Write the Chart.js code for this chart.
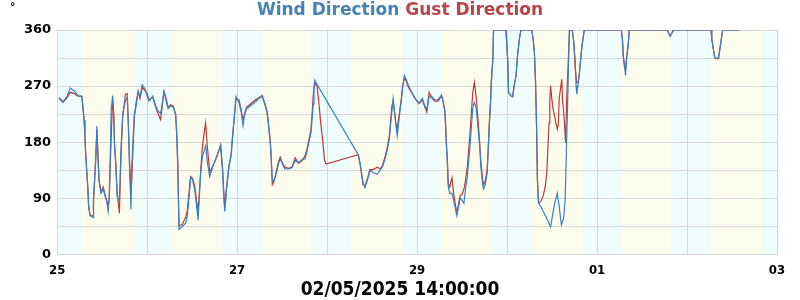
<!DOCTYPE html>
<html>
<head>
<meta charset="utf-8">
<script src="https://cdn.jsdelivr.net/npm/chart.js@4.4.1/dist/chart.umd.min.js"></script>
<style>
  html, body { margin: 0; padding: 0; background: #ffffff; }
  #wrap { width: 800px; height: 300px; position: relative; }
</style>
</head>
<body>
<div id="wrap"><canvas id="dirChart"></canvas></div>
<script>
// hours since 25/04/2025 00:00
const dayLabels = ['25', '26', '27', '28', '29', '30', '01', '02', '03'];
const sunriseHours = [6.6, 30.8, 54.5, 78.4, 102.3, 126.5, 150.4, 174.3];
const sunsetHours = [20.1, 43.8, 67.7, 91.8, 115.8, 140.0, 163.7, 187.8];
const stampText = '02/05/2025 14:00:00';

const windHours = [
  0.5, 1.6, 2.7, 3.5, 4.6, 5.5, 6.6, 6.8, 7.2, 7.4, 7.6, 7.9, 8.2, 8.4, 8.8, 9.6, 9.7,
  10.0, 10.3, 10.6, 10.9, 11.2, 11.7, 12.3, 12.8, 13.3, 13.6, 13.9, 14.1, 14.4, 14.8,
  15.1, 15.3, 15.7, 16.0, 16.6, 16.8, 17.1, 17.5, 17.9, 18.2, 18.7, 19.0, 19.3, 19.7,
  19.9, 20.3, 20.6, 21.1, 21.6, 22.1, 22.7, 23.5, 24.0, 24.5, 25.5, 26.3, 26.9, 27.6,
  28.5, 29.1, 29.6, 30.3, 31.0, 31.6, 31.9, 32.2, 32.5, 33.4, 34.3, 34.7, 35.2, 35.6,
  36.1, 36.7, 37.2, 37.6, 37.9, 38.3, 38.7, 39.2, 39.6, 40.1, 40.7, 41.4, 42.3, 43.1,
  43.6, 44.1, 44.5, 44.7, 45.2, 45.8, 46.4, 46.9, 47.3, 47.7, 48.5, 49.1, 49.6, 49.9,
  50.5, 51.5, 52.9, 54.2, 54.7, 55.4, 55.9, 56.2, 56.6, 56.9, 57.1, 57.4, 57.9, 58.5,
  59.1, 59.5, 60.0, 60.7, 61.7, 62.6, 63.5, 64.4, 65.3, 66.1, 66.6, 67.1, 67.7, 68.0,
  68.3, 68.5, 68.7, 80.3, 80.8, 81.2, 81.6, 82.1, 82.8, 83.4, 84.3, 85.4, 86.1, 86.8,
  87.4, 88.0, 88.6, 88.9, 89.3, 89.6, 90.0, 90.3, 90.7, 91.0, 91.4, 91.8, 92.1, 92.6,
  93.2, 93.7, 94.5, 95.5, 96.5, 97.4, 98.1, 98.6, 99.2, 99.8, 100.7, 101.6, 102.5,
  102.8, 103.4, 103.6, 103.8, 104.1, 104.3, 104.7, 105.3, 105.7, 106.2, 106.6, 107.1,
  107.5, 108.0, 108.5, 108.9, 109.4, 109.8, 110.2, 110.5, 110.9, 111.3, 111.8, 112.2,
  112.7, 113.0, 113.4, 113.7, 114.2, 114.7, 115.0, 115.3, 115.6, 115.8, 116.2, 116.4,
  119.7, 119.9, 120.2, 120.4, 121.1, 121.5, 121.9, 122.4, 122.8, 123.3, 123.7, 126.6,
  127.0, 127.3, 127.6, 127.9, 128.1, 128.4, 129.0, 129.9, 130.8, 131.6, 132.1, 132.7,
  133.4, 133.9, 134.5, 135.1, 135.5, 135.9, 136.2, 136.6, 137.4, 137.8, 138.2, 138.4,
  138.6, 139.0, 139.3, 139.7, 140.0, 140.4, 140.6, 150.5, 150.8, 151.0, 151.4, 151.6,
  151.9, 152.3, 152.6, 162.7, 163.5, 164.4, 174.4, 174.6, 175.0, 175.4, 175.7, 176.4,
  176.8, 177.1, 177.5, 182.0
];
const windDir = [
  252, 245, 254, 267, 262, 255, 253, 241, 215, 191, 163, 134, 105, 77, 62, 59, 88,
  120, 152, 206, 152, 117, 98, 105, 93, 83, 69, 93, 136, 230, 255,
  222, 176, 136, 93, 85, 125, 179, 225, 238, 246, 252, 206, 141, 72,
  141, 190, 225, 239, 261, 253, 272, 265, 254, 246, 254, 238, 230, 226,
  260, 246, 234, 238, 236, 225, 190, 131, 40, 45, 50, 61, 93, 123,
  120, 104, 77, 55, 90, 131, 155, 166, 174, 147, 125, 139, 152, 166,
  174, 135, 88, 69, 104, 141, 158, 195, 222, 253, 244, 228, 207, 222,
  233, 238, 245, 252, 253, 241, 230, 217, 193, 174, 152, 117, 120, 131,
  147, 153, 147, 137, 137, 139, 151, 147, 152, 153, 164, 179, 195, 217,
  241, 268, 279, 160, 147, 131, 115, 107, 120, 135, 131, 129, 135, 141,
  152, 166, 185, 206, 230, 250, 229, 211, 190, 206, 228, 246, 265, 287,
  279, 271, 261, 250, 243, 250, 238, 233, 252, 254, 248, 248, 256,
  249, 230, 206, 176, 144, 109, 98, 98, 88, 74, 62, 77,
  90, 87, 82, 104, 125, 152, 179, 206, 238, 244, 233, 206,
  174, 141, 117, 105, 112, 131, 174, 211, 244, 276, 311, 360,
  360, 341, 308, 260, 254, 253, 271, 287, 319, 346, 360, 360,
  343, 324, 276, 198, 120, 82, 77, 66, 55, 44, 61, 82,
  98, 77, 47, 58, 88, 182, 252, 360, 360, 341, 308, 271,
  257, 276, 292, 316, 335, 351, 360, 360, 343, 316, 298, 287,
  316, 335, 360, 360, 350, 360, 360, 346, 330, 316, 314, 316,
  331, 343, 360, 360
];

const gustHours = [
  0.5, 1.6, 2.7, 3.5, 4.6, 5.5, 6.6, 6.8, 7.2, 7.4, 7.6, 7.9, 8.2, 8.4, 8.8, 9.6, 9.7,
  10.0, 10.3, 10.6, 10.9, 11.2, 11.7, 12.3, 12.8, 13.3, 13.6, 13.9, 14.1, 14.4, 14.8,
  15.1, 15.3, 15.7, 16.0, 16.6, 16.8, 17.1, 17.5, 17.9, 18.2, 18.7, 19.0, 19.3, 19.7,
  19.9, 20.3, 20.6, 21.1, 21.6, 22.1, 22.7, 23.5, 24.0, 24.5, 25.5, 26.3, 26.9, 27.6,
  28.5, 29.1, 29.6, 30.3, 31.0, 31.6, 31.9, 32.2, 32.5, 33.4, 34.3, 34.7, 35.2, 35.6,
  36.1, 36.7, 37.2, 37.6, 37.9, 38.3, 38.7, 39.2, 39.6, 40.1, 40.7, 41.4, 42.3, 43.1,
  43.6, 44.1, 44.5, 44.7, 45.2, 45.8, 46.4, 46.9, 47.3, 47.7, 48.5, 49.1, 49.6, 49.9,
  50.5, 51.5, 52.9, 54.2, 54.7, 55.4, 55.9, 56.2, 56.6, 56.9, 57.1, 57.4, 57.9, 58.5,
  59.1, 59.5, 60.0, 60.7, 61.7, 62.6, 63.5, 64.4, 65.3, 66.1, 66.6, 67.1, 67.7, 68.0,
  68.3, 68.7, 69.3, 69.8, 70.3, 70.9, 71.3, 71.7, 80.3, 80.8, 81.2, 81.6, 82.1, 82.8,
  83.4, 84.3, 85.4, 86.1, 86.8, 87.4, 88.0, 88.6, 88.9, 89.3, 89.6, 90.0, 90.3, 90.7,
  91.0, 91.4, 91.8, 92.1, 92.6, 93.2, 93.7, 94.5, 95.5, 96.5, 97.4, 98.1, 98.6, 99.2,
  99.8, 100.7, 101.6, 102.5, 102.8, 103.4, 103.6, 103.8, 104.1, 104.3, 104.7, 105.3,
  105.7, 106.2, 106.6, 107.1, 107.5, 108.0, 108.5, 108.9, 109.4, 109.8, 110.2, 110.5,
  110.9, 111.3, 111.8, 112.2, 112.7, 113.0, 113.4, 113.7, 114.2, 114.7, 115.0, 115.3,
  115.6, 115.8, 116.2, 116.4, 119.7, 119.9, 120.2, 120.4, 121.1, 121.5, 121.9, 122.4,
  122.8, 123.3, 123.7, 126.6, 127.0, 127.3, 127.6, 127.9, 128.1, 128.4, 129.0, 129.6,
  130.2, 130.6, 130.9, 131.2, 131.4, 131.6, 131.9, 132.2, 132.7, 133.0, 133.4, 133.7,
  133.9, 134.3, 134.6, 134.8, 135.1, 135.4, 135.6, 135.9, 136.2, 136.5, 136.7, 137.4,
  137.8, 138.2, 138.6, 139.0, 139.3, 139.7, 140.0, 140.4, 140.6, 150.5, 150.8, 151.0,
  151.4, 151.6, 151.9, 152.3, 152.6, 162.7, 163.5, 164.4, 174.4, 174.6, 175.0, 175.4,
  175.7, 176.4, 176.8, 177.1, 177.5, 182.0
];
const gustDir = [
  250, 244, 252, 260, 258, 254, 254, 241, 215, 191, 163, 134, 105, 77, 62, 62, 88,
  120, 155, 200, 160, 118, 100, 108, 95, 85, 75, 90, 130, 185, 250,
  225, 180, 140, 100, 66, 110, 170, 222, 240, 257, 258, 210, 150, 100,
  120, 180, 220, 245, 262, 250, 268, 262, 258, 248, 252, 236, 226, 216,
  262, 250, 236, 240, 238, 224, 195, 145, 46, 48, 60, 70, 100, 125,
  122, 110, 85, 70, 95, 135, 170, 195, 211, 170, 132, 140, 153, 166,
  176, 140, 95, 75, 108, 140, 160, 198, 224, 250, 248, 232, 212, 224,
  236, 241, 248, 253, 255, 242, 232, 220, 198, 178, 155, 112, 118, 134,
  150, 156, 148, 140, 138, 140, 155, 146, 150, 158, 168, 182, 200, 225,
  255, 275, 271, 244, 211, 179, 152, 145, 160, 145, 128, 112, 110, 122,
  136, 136, 140, 137, 143, 155, 170, 190, 212, 238, 245, 228, 212, 200,
  215, 232, 250, 268, 283, 277, 268, 260, 250, 242, 248, 236, 228, 260,
  252, 246, 246, 254, 250, 232, 210, 180, 150, 115, 108, 123,
  100, 80, 68, 82, 95, 96, 105, 118, 140, 170, 200, 230,
  262, 276, 250, 220, 180, 150, 125, 112, 118, 136, 170, 215,
  246, 278, 312, 360, 360, 341, 308, 260, 254, 253, 271, 287,
  319, 346, 360, 360, 343, 324, 276, 198, 120, 82, 85, 93,
  109, 131, 171, 211, 244, 271, 252, 236, 222, 211, 201, 211,
  249, 268, 281, 246, 228, 201, 179, 249, 292, 335, 360, 360,
  341, 297, 276, 276, 290, 318, 336, 352, 360, 360, 343, 318,
  300, 296, 316, 336, 360, 360, 350, 360, 360, 346, 330, 316,
  315, 314, 331, 343, 360, 360
];

const windColor = '#3b80bd';
const gustColor = '#b8393e';

function toPoints(xs, ys) {
    return xs.map((x, i) => ({ x: x, y: ys[i] }));
}

// day (yellow) / night (cyan) bands behind the grid
const bandPlugin = {
    id: 'dayNightBands',
    beforeDraw(chart) {
        const { ctx, chartArea, scales } = chart;
        const xs = scales.x;
        ctx.save();
        ctx.fillStyle = '#effdfd';
        ctx.fillRect(chartArea.left, chartArea.top, chartArea.width, chartArea.height);
        ctx.fillStyle = '#fdfdee';
        for (let i = 0; i < sunriseHours.length; i++) {
            let a = Math.max(xs.getPixelForValue(sunriseHours[i]), chartArea.left);
            let b = Math.min(xs.getPixelForValue(sunsetHours[i]), chartArea.right);
            if (b > a) ctx.fillRect(a, chartArea.top, b - a, chartArea.height);
        }
        ctx.restore();
    }
};

// two-colour header, degree unit mark and time stamp
const headerPlugin = {
    id: 'header',
    afterDraw(chart) {
        const ctx = chart.ctx;
        const t1 = 'Wind Direction ';
        const t2 = 'Gust Direction';
        ctx.save();
        ctx.font = 'bold 17px "DejaVu Sans"';
        ctx.textBaseline = 'middle';
        const w1 = ctx.measureText(t1).width;
        const w2 = ctx.measureText(t2).width;
        let x = chart.width / 2 - (w1 + w2) / 2;
        ctx.fillStyle = '#4682b4';
        ctx.fillText(t1, x, 11);
        ctx.fillStyle = '#b94448';
        ctx.fillText(t2, x + w1, 11);

        ctx.font = 'bold 11px "DejaVu Sans"';
        ctx.fillStyle = '#000';
        ctx.fillText('°', 10, 7);

        ctx.font = 'bold 19px "DejaVu Sans Condensed", "DejaVu Sans"';
        ctx.textAlign = 'center';
        ctx.fillText(stampText, chart.width / 2, 290);
        ctx.restore();
    }
};

const ctx = document.getElementById('dirChart').getContext('2d');
const dirChart = new Chart(ctx, {
    type: 'line',
    data: {
        datasets: [{
            label: 'Wind Direction',
            data: toPoints(windHours, windDir),
            borderColor: windColor,
            borderWidth: 1.2,
            pointRadius: 0,
            tension: 0,
            fill: false
        }, {
            label: 'Gust Direction',
            data: toPoints(gustHours, gustDir),
            borderColor: gustColor,
            borderWidth: 1.2,
            pointRadius: 0,
            tension: 0,
            fill: false
        }]
    },
    options: {
        responsive: true,
        maintainAspectRatio: false,
        animation: false,
        layout: {
            padding: { top: 30, right: 23, left: 18, bottom: 14 }
        },
        plugins: {
            legend: { display: false },
            title: { display: false },
            tooltip: { enabled: false }
        },
        scales: {
            x: {
                type: 'linear',
                min: 0,
                max: 192,
                grid: { color: '#d6d6d6', lineWidth: 1, drawTicks: false },
                border: { color: '#d6d6d6' },
                ticks: {
                    stepSize: 24,
                    autoSkip: false,
                    maxRotation: 0,
                    padding: 8,
                    color: '#000',
                    font: { family: '"DejaVu Sans Condensed", "DejaVu Sans"', weight: 'bold', size: 13 },
                    callback: function(value) {
                        const i = Math.round(value / 24);
                        return i % 2 === 0 ? dayLabels[i] : '';
                    }
                }
            },
            y: {
                min: 0,
                max: 360,
                grid: { color: '#d6d6d6', lineWidth: 1, drawTicks: false },
                border: { color: '#d6d6d6' },
                ticks: {
                    stepSize: 45,
                    padding: 6,
                    color: '#000',
                    font: { family: '"DejaVu Sans"', weight: 'bold', size: 13 },
                    callback: function(value) {
                        return value % 90 === 0 ? value : '';
                    }
                }
            }
        }
    },
    plugins: [bandPlugin, headerPlugin]
});
</script>
</body>
</html>
